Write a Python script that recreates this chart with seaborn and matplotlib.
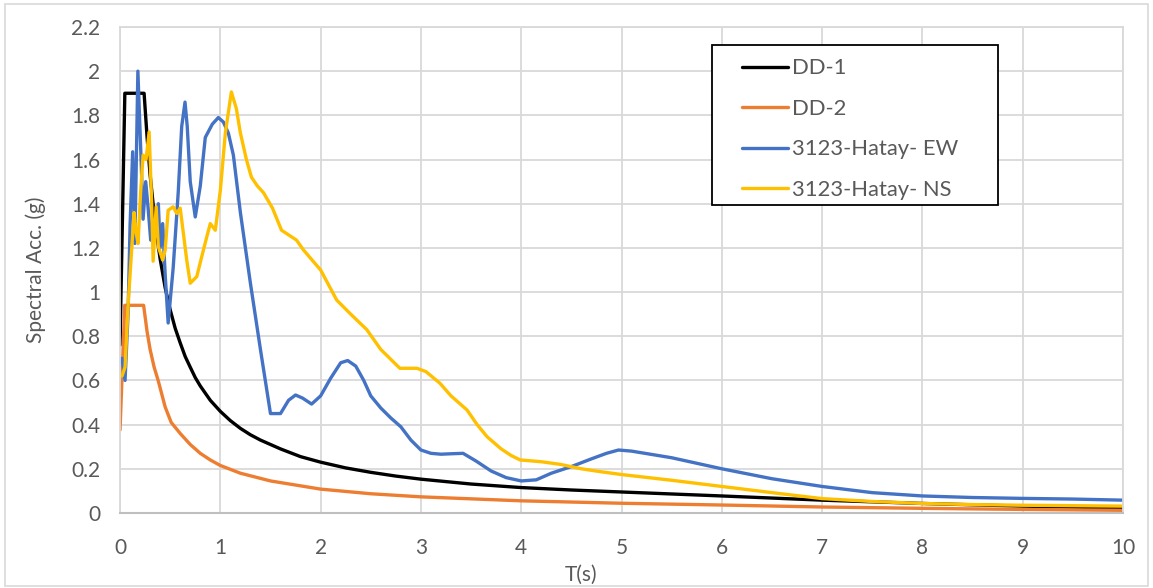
import matplotlib
matplotlib.use("Agg")
import matplotlib.pyplot as plt
import pandas as pd
import seaborn as sns
from matplotlib.lines import Line2D
from matplotlib.patches import Rectangle

# ---- series -------------------------------------------------------------
series_names = ["DD-1", "DD-2", "3123-Hatay- EW", "3123-Hatay- NS"]
series_colors = ["#000000", "#ED7D31", "#4472C4", "#FFC000"]

# design spectrum, level DD-1
dd1_T = [0.0, 0.048, 0.24, 0.27, 0.3, 0.35, 0.4, 0.45, 0.5, 0.55, 0.6, 0.65,
         0.7, 0.75, 0.8, 0.9, 1.0, 1.1, 1.2, 1.3, 1.4, 1.6, 1.8, 2.0, 2.25,
         2.5, 2.75, 3.0, 3.5, 4.0, 4.5, 5.0, 6.0, 7.0, 8.0, 9.0, 10.0]
dd1_sa = [0.76, 1.90, 1.90, 1.70, 1.53, 1.31, 1.15, 1.02, 0.92, 0.836, 0.77,
          0.708, 0.66, 0.613, 0.575, 0.51, 0.46, 0.418, 0.383, 0.354, 0.33,
          0.29, 0.255, 0.23, 0.204, 0.184, 0.167, 0.153, 0.131, 0.115, 0.104,
          0.095, 0.077, 0.058, 0.043, 0.031, 0.022]

# design spectrum, level DD-2
dd2_T = [0.0, 0.047, 0.235, 0.27, 0.3, 0.34, 0.38, 0.45, 0.51, 0.6, 0.7, 0.8,
         0.9, 1.0, 1.2, 1.5, 2.0, 2.5, 3.0, 4.0, 5.0, 6.0, 7.0, 8.0, 9.0,
         10.0]
dd2_sa = [0.376, 0.94, 0.94, 0.82, 0.74, 0.66, 0.60, 0.48, 0.41, 0.36, 0.31,
          0.27, 0.24, 0.215, 0.18, 0.145, 0.108, 0.087, 0.073, 0.055, 0.044,
          0.036, 0.027, 0.021, 0.016, 0.012]

# station 3123 (Hatay), east-west component
ew_T = [0.02, 0.05, 0.08, 0.10, 0.126, 0.148, 0.178, 0.21, 0.23, 0.256, 0.28,
        0.306, 0.35, 0.382, 0.40, 0.425, 0.45, 0.48, 0.53, 0.58, 0.615, 0.648,
        0.67, 0.70, 0.75, 0.80, 0.85, 0.92, 0.98, 1.03, 1.08, 1.13, 1.2, 1.3,
        1.4, 1.5, 1.6, 1.68, 1.75, 1.82, 1.91, 2.0, 2.1, 2.2, 2.27, 2.35,
        2.43, 2.5, 2.6, 2.7, 2.8, 2.9, 3.0, 3.1, 3.2, 3.3, 3.42, 3.55, 3.7,
        3.85, 4.0, 4.15, 4.3, 4.5, 4.7, 4.85, 4.97, 5.1, 5.5, 6.0, 6.5, 7.0,
        7.5, 8.0, 8.5, 9.0, 9.5, 10.0]
ew_sa = [0.70, 0.60, 0.90, 1.30, 1.635, 1.22, 2.00, 1.60, 1.33, 1.50, 1.38,
         1.235, 1.30, 1.40, 1.20, 1.31, 1.08, 0.86, 1.11, 1.45, 1.75, 1.86,
         1.75, 1.50, 1.34, 1.48, 1.70, 1.76, 1.79, 1.77, 1.72, 1.62, 1.36,
         1.04, 0.74, 0.45, 0.45, 0.51, 0.534, 0.52, 0.493, 0.53, 0.61, 0.68,
         0.69, 0.665, 0.60, 0.53, 0.475, 0.43, 0.39, 0.33, 0.285, 0.27,
         0.266, 0.268, 0.27, 0.235, 0.19, 0.16, 0.145, 0.15, 0.18, 0.21,
         0.245, 0.27, 0.285, 0.28, 0.25, 0.20, 0.155, 0.12, 0.092, 0.077,
         0.07, 0.066, 0.063, 0.058]

# station 3123 (Hatay), north-south component
ns_T = [0.02, 0.05, 0.083, 0.117, 0.14, 0.16, 0.18, 0.205, 0.23, 0.26, 0.29,
        0.316, 0.33, 0.36, 0.382, 0.425, 0.45, 0.48, 0.53, 0.565, 0.6, 0.665,
        0.70, 0.765, 0.82, 0.865, 0.90, 0.95, 1.0, 1.05, 1.11, 1.16, 1.2,
        1.26, 1.31, 1.37, 1.43, 1.52, 1.61, 1.76, 1.83, 2.0, 2.16, 2.3, 2.46,
        2.6, 2.79, 2.96, 3.05, 3.19, 3.3, 3.46, 3.56, 3.66, 3.8, 3.9, 3.99,
        4.2, 4.39, 4.6, 4.79, 5.0, 5.5, 6.0, 6.5, 7.0, 7.5, 8.0, 8.5, 9.0,
        9.5, 10.0]
ns_sa = [0.62, 0.66, 0.96, 1.20, 1.36, 1.27, 1.22, 1.45, 1.62, 1.60, 1.725,
         1.40, 1.14, 1.386, 1.205, 1.145, 1.19, 1.37, 1.386, 1.356, 1.38,
         1.145, 1.04, 1.07, 1.17, 1.25, 1.31, 1.28, 1.46, 1.72, 1.906, 1.83,
         1.72, 1.60, 1.52, 1.48, 1.45, 1.38, 1.28, 1.235, 1.19, 1.10, 0.964,
         0.90, 0.83, 0.74, 0.655, 0.655, 0.64, 0.587, 0.53, 0.466, 0.40,
         0.345, 0.29, 0.26, 0.24, 0.232, 0.22, 0.20, 0.187, 0.174, 0.148,
         0.12, 0.092, 0.065, 0.052, 0.043, 0.038, 0.035, 0.033, 0.031]

x_ticks = [0, 1, 2, 3, 4, 5, 6, 7, 8, 9, 10]
y_ticks = [0.0, 0.2, 0.4, 0.6, 0.8, 1.0, 1.2, 1.4, 1.6, 1.8, 2.0, 2.2]
y_tick_labels = ["0", "0.2", "0.4", "0.6", "0.8", "1", "1.2", "1.4", "1.6",
                 "1.8", "2", "2.2"]

frames = []
for name, T, sa in zip(series_names, [dd1_T, dd2_T, ew_T, ns_T],
                       [dd1_sa, dd2_sa, ew_sa, ns_sa]):
    frames.append(pd.DataFrame({"T": T, "Sa": sa, "series": name}))
df = pd.concat(frames, ignore_index=True)

# ---- figure -------------------------------------------------------------
sns.set_theme(style="white")
plt.rcParams["font.family"] = ["Lato", "DejaVu Sans"]
text_color = "#595959"
grid_color = "#D9D9D9"

fig = plt.figure(figsize=(11.53, 5.88), dpi=100)
ax = fig.add_axes([0.1041, 0.1276, 0.8699, 0.8265])

sns.lineplot(data=df, x="T", y="Sa", hue="series", hue_order=series_names,
             palette=series_colors, linewidth=2.4, estimator=None, sort=False,
             legend=False, ax=ax)
for line in ax.get_lines():
    line.set_solid_joinstyle("round")

ax.set_xlim(0, 10)
ax.set_ylim(0, 2.2)
ax.set_xticks(x_ticks)
ax.set_xticklabels([str(t) for t in x_ticks])
ax.set_yticks(y_ticks)
ax.set_yticklabels(y_tick_labels)
ax.tick_params(axis="both", length=0, labelsize=15, labelcolor=text_color)
ax.tick_params(axis="y", pad=14)
ax.tick_params(axis="x", pad=18)

ax.grid(True, color=grid_color, linewidth=1.3)
ax.set_axisbelow(True)
for side in ["top", "right", "left"]:
    ax.spines[side].set_color(grid_color)
    ax.spines[side].set_linewidth(1.3)
ax.spines["bottom"].set_color("#BFBFBF")
ax.spines["bottom"].set_linewidth(1.5)

ax.set_xlabel("T(s)", fontsize=15, color=text_color)
ax.set_ylabel("Spectral Acc. (g)", fontsize=15, color=text_color)
ax.xaxis.set_label_coords(0.46, -0.107)
ax.yaxis.set_label_coords(-0.074, 0.5)

# legend with a square black frame
handles = [Line2D([0], [0], color=c, linewidth=2.4) for c in series_colors]
ax.legend(handles, series_names, loc="upper left",
          bbox_to_anchor=(0.609, 0.958), frameon=False, fontsize=15.8,
          handlelength=2.1, handletextpad=0.2, labelspacing=0.93,
          borderpad=0, labelcolor=text_color)
ax.add_patch(Rectangle((0.590, 0.634), 0.285, 0.329, transform=ax.transAxes,
                       fill=True, facecolor="white", edgecolor="black",
                       linewidth=1.3, zorder=4))
ax.get_legend().set_zorder(5)

# outer chart border
fig.add_artist(Rectangle((0.004, 0.004), 0.992, 0.990,
                         transform=fig.transFigure, fill=False,
                         edgecolor="#D9D9D9", linewidth=1.2))

fig.savefig("out.png", dpi=100)
